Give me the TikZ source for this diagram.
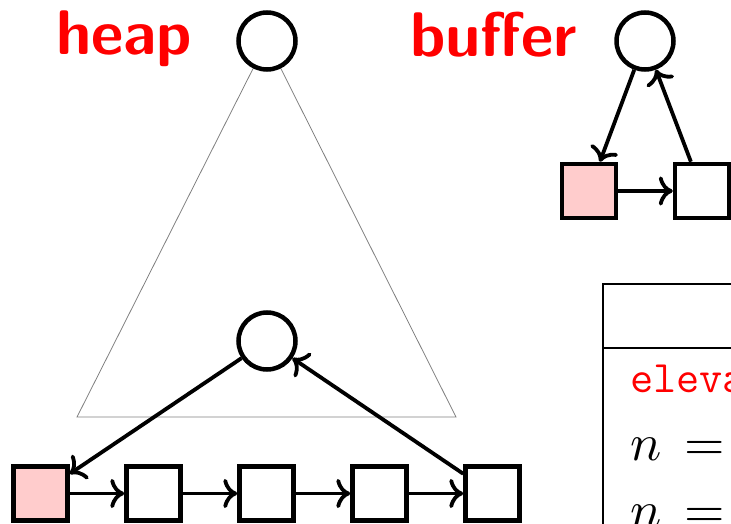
\documentclass[tikz,border=0pt]{standalone}
\usepackage{fontspec}
\usepackage{xcolor}
\usetikzlibrary{arrows.meta}
\definecolor{headpink}{RGB}{255,204,204}

\begin{document}
\begin{tikzpicture}[x=1pt, y=-1pt,
  vertex/.style={circle, draw, line width=4.5pt, fill=white, minimum size=57pt, inner sep=0pt},
  cell/.style={rectangle, draw, line width=4.5pt, fill=white, minimum size=54pt, inner sep=0pt},
  link/.style={-{To[scale=1.4]}, line width=3.8pt},
  title/.style={anchor=base west, inner sep=0pt, text=red, font=\fontsize{63}{65}\selectfont\sffamily\bfseries}]
  \path[use as bounding box, clip] (0,0) rectangle (731,524);

  % Heap: outline triangle below the root
  \coordinate (apex) at (267,41);
  \draw[gray, line width=0.8pt] (apex) -- (77,417) -- (456,417) -- cycle;
  \node[vertex] (root) at (apex) {};
  \node[title] (heaplabel) at (56,55) {heap};

  % Heap: inner node and its list of cells
  \node[vertex] (mid) at (267,341) {};
  \node[cell, fill=headpink] (s1) at (40.5,493.5) {};
  \foreach \i in {2,...,5}
    \node[cell] (s\i) at ({40.5+113*(\i-1)},493.5) {};
  \foreach \i/\j in {1/2,2/3,3/4,4/5}
    \draw[link] (s\i) -- (s\j);
  \draw[link] (mid) -- (s1);
  \draw[link] (s5) -- (mid);

  % Buffer: root with two cells
  \node[title] (buflabel) at (410,57) {buffer};
  \node[vertex] (broot) at (645,41) {};
  \node[cell, fill=headpink] (bhead) at (589,191) {};
  \node[cell] (btail) at (702,191) {};
  \draw[link] (broot) -- (bhead);
  \draw[link] (bhead) -- (btail);
  \draw[link] (btail) -- (broot);

  % Table on the right
  \draw[line width=1.4pt] (740,284) -- (603,284) -- (603,530);
  \draw[line width=1.4pt] (603,348) -- (740,348);
  \node[anchor=base west, inner sep=0pt, text=red, font=\ttfamily\fontsize{45}{47}\selectfont] (op) at (630,392) {eleva};
  \node[anchor=base west, inner sep=0pt, scale=5.2] (row1) at (629,460) {$n\,=$};
  \node[anchor=base west, inner sep=0pt, scale=5.2] (row2) at (629,527) {$n\,=$};
\end{tikzpicture}
\end{document}
